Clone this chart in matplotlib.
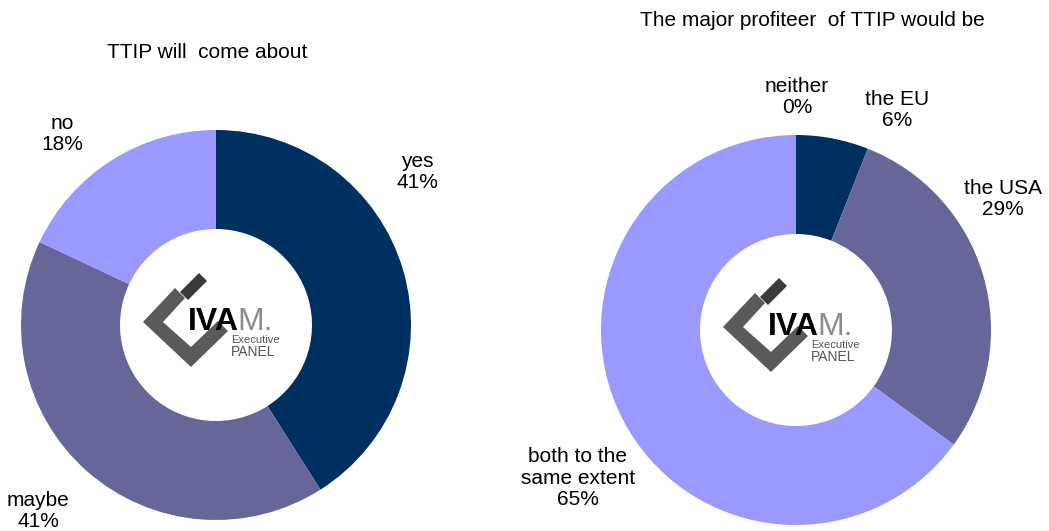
import matplotlib.pyplot as plt
from matplotlib.patches import Polygon

W, H = 1049, 531

# TTIP will come about
labels_a = ['yes', 'maybe', 'no']
values_a = [41, 41, 18]
# The major profiteer of TTIP would be
labels_b = ['the EU', 'the USA', 'both to the\nsame extent', 'neither']
values_b = [6, 29, 65, 0]

colors_a = ['#003060', '#666699', '#9999FF']
colors_b = ['#003060', '#666699', '#9999FF', '#CCCCFF']

plt.rcParams['font.family'] = ['Liberation Sans', 'DejaVu Sans']

fig = plt.figure(figsize=(W / 100, H / 100), dpi=100)
ax = fig.add_axes([0, 0, 1, 1])


def py(y):
    # pixel row -> data y
    return H - y


def logo(cx, cy):
    # cx, cy = donut centre in pixels
    def pts(lst):
        return [(cx + x, py(cy + y)) for x, y in lst]
    chev = [(-41, -37), (-73, -3), (-25, 42), (12, 6), (2, -4), (-25, 22), (-53, -3), (-31, -27)]
    ax.add_patch(Polygon(pts(chev), closed=True, fc='#5a5a5a', ec='none', zorder=5))
    bar = [(-36, -33), (-17, -52), (-9, -44), (-28, -25)]
    ax.add_patch(Polygon(pts(bar), closed=True, fc='#3a3a3a', ec='none', zorder=5))
    t = ax.text(cx - 28, py(cy + 5), 'IVA', fontsize=23, fontweight='bold', color='black',
                ha='left', va='baseline', zorder=6)
    ax.annotate('M.', xy=(1, 0), xycoords=t, xytext=(-1, 0), textcoords='offset points',
                fontsize=23, color='#8c8c8c', ha='left', va='bottom', zorder=6)
    ax.text(cx + 15, py(cy + 18), 'Executive', fontsize=8, color='#555555',
            ha='left', va='baseline', zorder=6)
    ax.text(cx + 15, py(cy + 31), 'PANEL', fontsize=10, color='#555555',
            ha='left', va='baseline', zorder=6)


r_out, r_in = 195, 96
ca = (216, 325)
cb = (796, 330)

ax.pie(values_a, colors=colors_a, startangle=90, counterclock=False,
       radius=r_out, center=(ca[0], py(ca[1])),
       wedgeprops=dict(width=r_out - r_in, linewidth=0))
ax.pie(values_b, colors=colors_b, startangle=90, counterclock=False,
       radius=r_out, center=(cb[0], py(cb[1])),
       wedgeprops=dict(width=r_out - r_in, linewidth=0))

logo(*ca)
logo(*cb)

fs = 15
ls = 1.15
ax.text(207, py(52), 'TTIP will  come about', fontsize=fs, ha='center', va='center')
ax.text(812, py(20), 'The major profiteer  of TTIP would be', fontsize=fs, ha='center', va='center')

# slice labels
pos_a = {'yes': (417, 172), 'maybe': (38, 511), 'no': (62, 134)}
for lab, v in zip(labels_a, values_a):
    x, y = pos_a[lab]
    ax.text(x, py(y), f'{lab}\n{v}%', fontsize=fs, ha='center', va='center', linespacing=ls)

pos_b = {'neither': (797, 97), 'the EU': (897, 110), 'the USA': (1003, 199),
         'both to the\nsame extent': (578, 478)}
for lab, v in zip(labels_b, values_b):
    x, y = pos_b[lab]
    ax.text(x, py(y), f'{lab}\n{v}%', fontsize=fs, ha='center', va='center', linespacing=ls)

ax.set_xlim(0, W)
ax.set_ylim(0, H)
ax.set_aspect('auto')
ax.axis('off')
fig.savefig('out.png', dpi=100)
